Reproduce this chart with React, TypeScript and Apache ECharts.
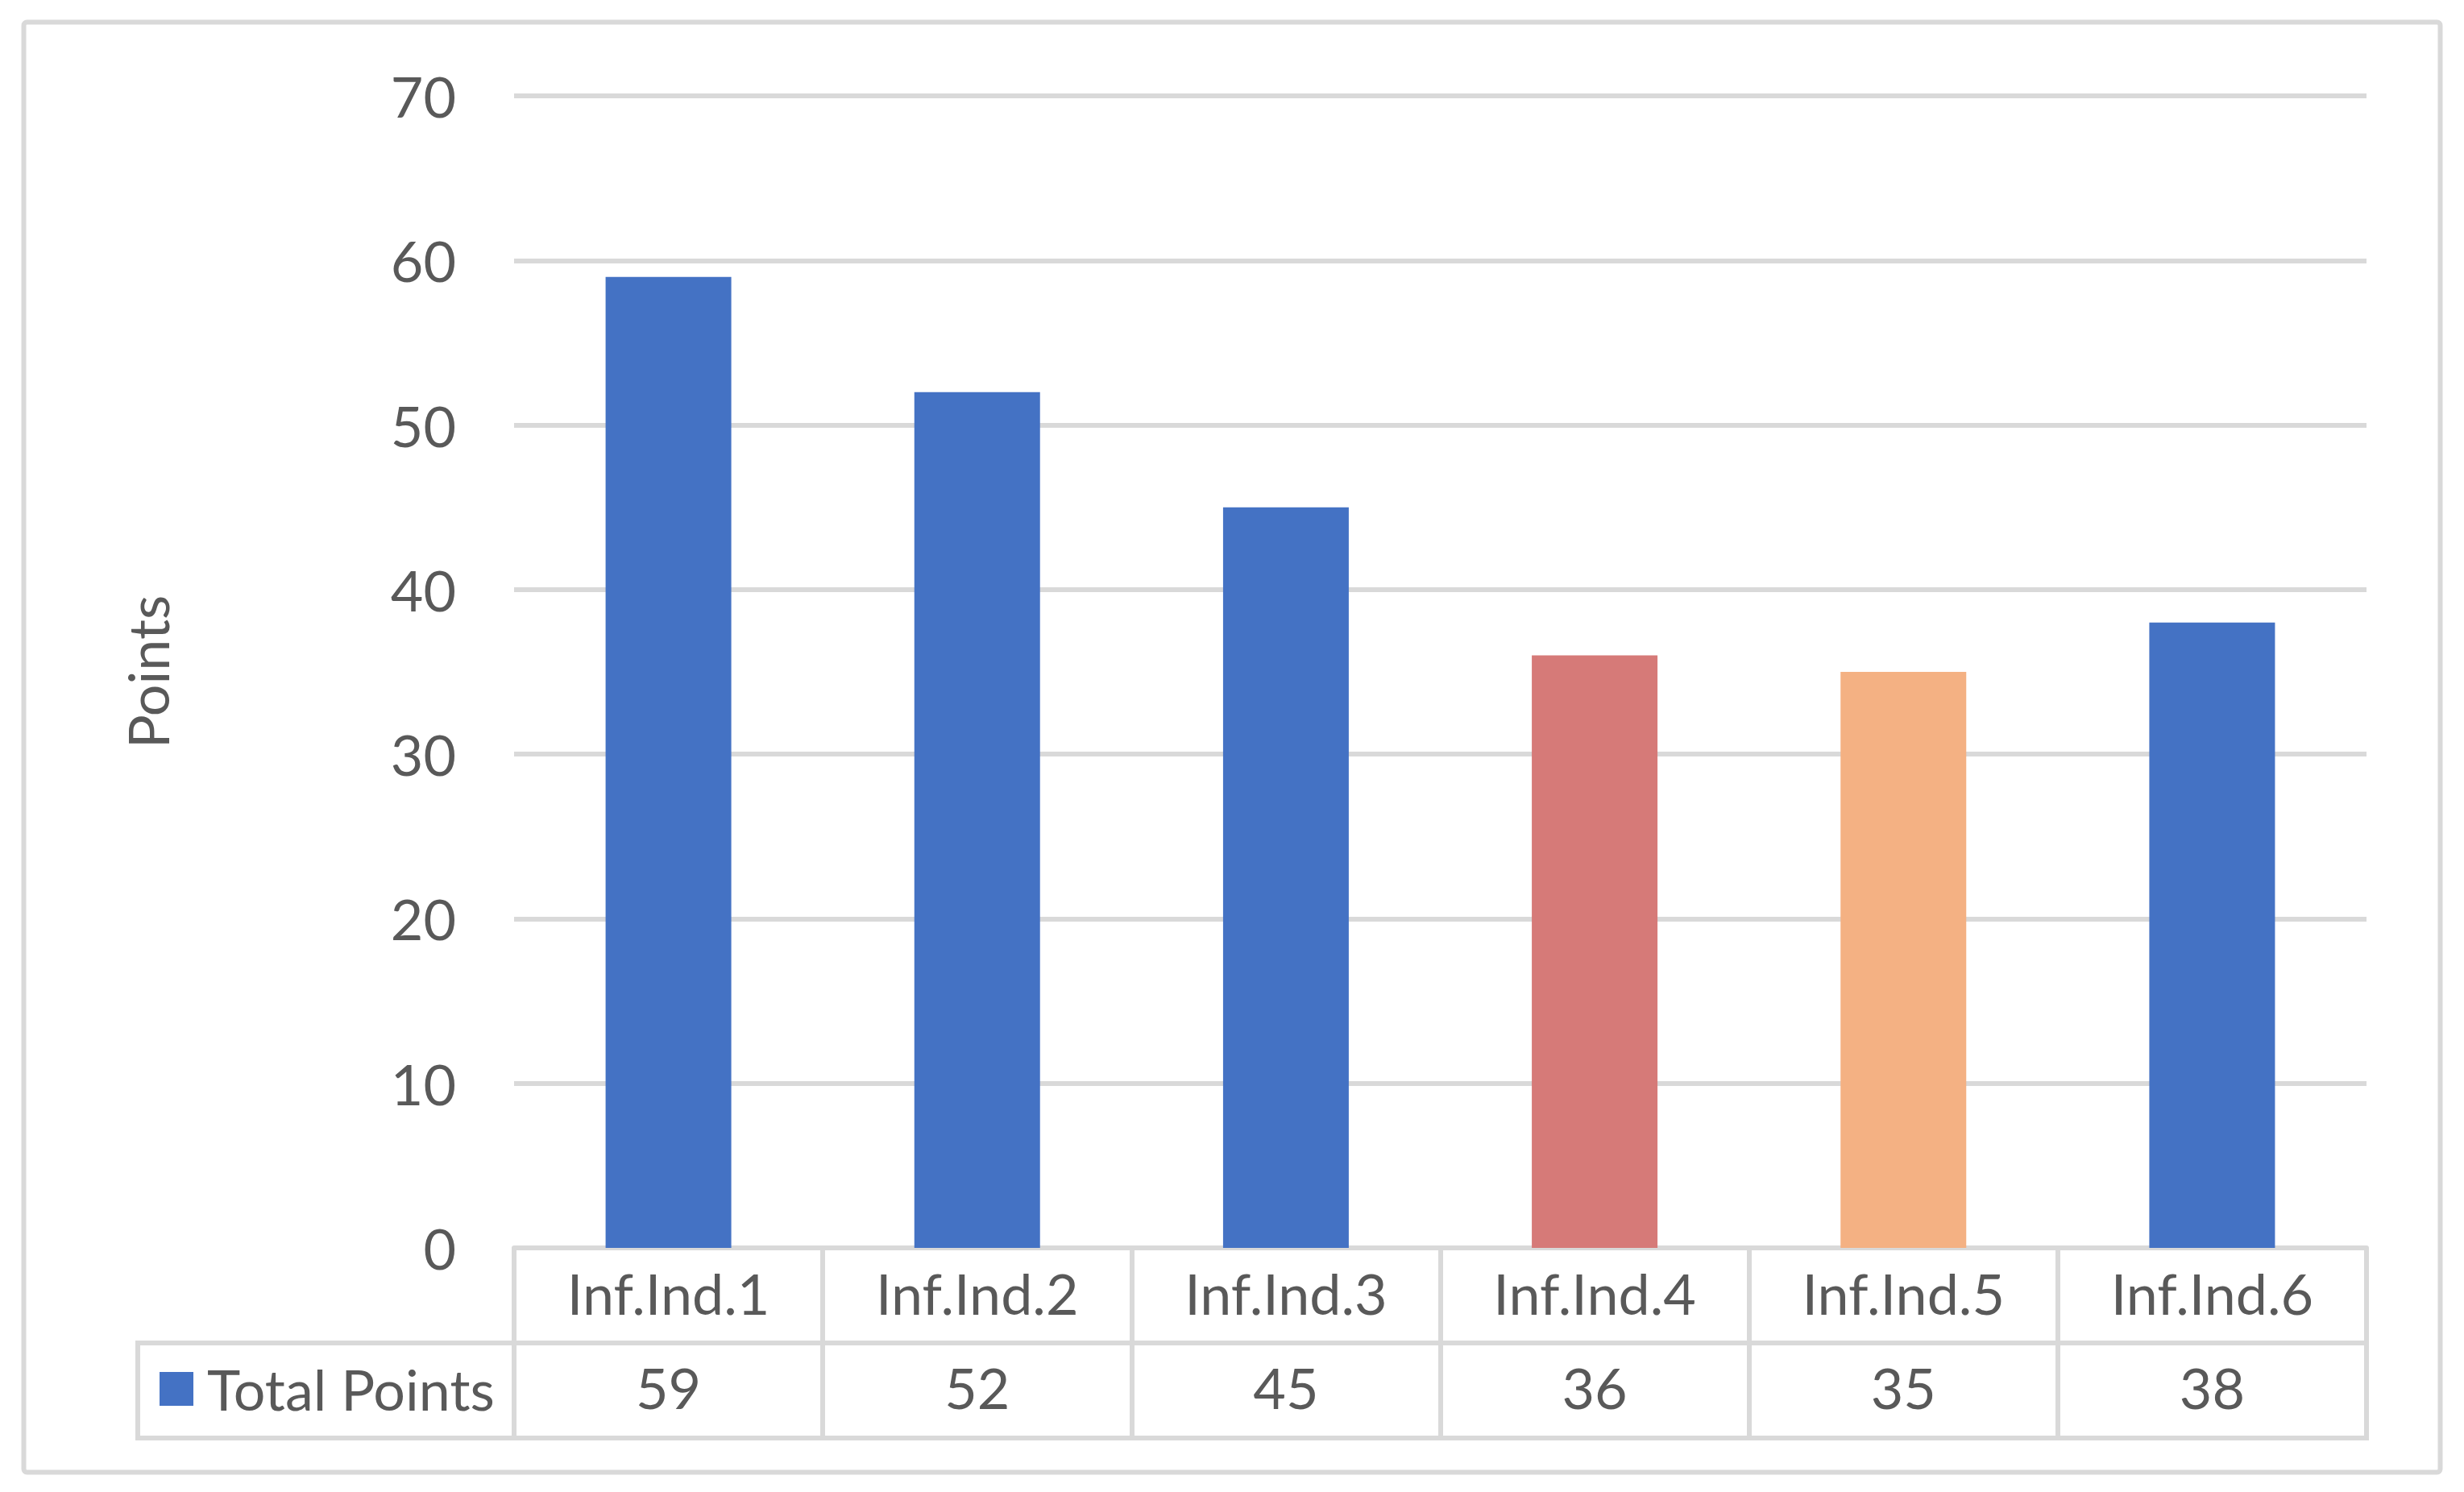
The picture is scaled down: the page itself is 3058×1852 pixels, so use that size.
import React, { useEffect, useRef } from "react";
import * as echarts from "echarts";

const categories = ["Inf.Ind.1", "Inf.Ind.2", "Inf.Ind.3", "Inf.Ind.4", "Inf.Ind.5", "Inf.Ind.6"];
const values = [59, 52, 45, 36, 35, 38];
const barColors = ["#4472C4", "#4472C4", "#4472C4", "#D67A78", "#F4B183", "#4472C4"];
const seriesName = "Total Points";
const axisTitle = "Points";

const W = 3058;
const H = 1852;
const GRID_LEFT = 638;
const GRID_RIGHT_X = 2937;
const GRID_TOP = 119;
const AXIS_Y = 1549;
const ROW1_BOTTOM = 1667;
const ROW2_BOTTOM = 1785;
const LEGEND_LEFT = 171;
const LINE = "#d9d9d9";
const TEXT = "#595959";
const FONT = "Lato, 'Open Sans', sans-serif";
const FS = 70;

export default function App() {
  const ref = useRef<HTMLDivElement>(null);
  useEffect(() => {
    if (!ref.current) return;
    const chart = echarts.init(ref.current, null, { renderer: "svg" });
    chart.setOption({
      animation: false,
      backgroundColor: "#ffffff",
      textStyle: { fontFamily: FONT, color: TEXT },
      grid: {
        left: GRID_LEFT,
        right: W - GRID_RIGHT_X,
        top: GRID_TOP,
        bottom: H - AXIS_Y,
        containLabel: false,
      },
      legend: {
        data: [seriesName],
        left: 198,
        top: 1689,
        padding: 0,
        itemWidth: 42,
        itemHeight: 42,
        icon: "rect",
        itemGap: 0,
        textStyle: {
          fontSize: FS,
          color: TEXT,
          fontFamily: FONT,
          lineHeight: 42,
          padding: [0, 0, 0, 12],
        },
        selectedMode: false,
      },
      xAxis: [
        {
          type: "category",
          data: categories,
          position: "bottom",
          axisLine: { show: true, lineStyle: { color: LINE, width: 6 } },
          axisTick: { show: true, length: ROW2_BOTTOM - AXIS_Y, lineStyle: { color: LINE, width: 6 } },
          axisLabel: {
            fontSize: FS,
            color: TEXT,
            fontFamily: FONT,
            margin: (AXIS_Y + ROW1_BOTTOM) / 2 - AXIS_Y - 3,
            verticalAlign: "middle",
          },
          splitLine: { show: false },
        },
        {
          type: "category",
          data: categories,
          position: "bottom",
          axisLine: { show: false },
          axisTick: { show: false },
          axisLabel: {
            fontSize: FS,
            color: TEXT,
            fontFamily: FONT,
            margin: (ROW1_BOTTOM + ROW2_BOTTOM) / 2 - AXIS_Y - 4,
            verticalAlign: "middle",
            formatter: (_v: string, i: number) => String(values[i]),
          },
        },
      ],
      yAxis: {
        type: "value",
        min: 0,
        max: 70,
        interval: 10,
        name: axisTitle,
        nameLocation: "middle",
        nameGap: 420,
        nameRotate: 90,
        nameTextStyle: { fontSize: FS, color: TEXT, fontFamily: FONT },
        axisLine: { show: false },
        axisTick: { show: false },
        axisLabel: {
          fontSize: FS,
          color: TEXT,
          fontFamily: FONT,
          margin: 72,
          verticalAlign: "middle",
          padding: [0, 0, 8, 0],
        },
        splitLine: { show: true, lineStyle: { color: LINE, width: 6 } },
      },
      series: [
        {
          name: seriesName,
          type: "bar",
          xAxisIndex: 0,
          barWidth: 156,
          itemStyle: { color: "#4472C4" },
          data: values.map((v, i) => ({ value: v, itemStyle: { color: barColors[i] } })),
        },
      ],
      graphic: [
        {
          type: "rect",
          shape: { x: 29.5, y: 27.5, width: 2999, height: 1800, r: 4 },
          style: { fill: "none", stroke: LINE, lineWidth: 6 },
          silent: true,
        },
        {
          type: "line",
          shape: { x1: LEGEND_LEFT, y1: ROW1_BOTTOM, x2: GRID_RIGHT_X + 3, y2: ROW1_BOTTOM },
          style: { stroke: LINE, lineWidth: 6 },
          silent: true,
        },
        {
          type: "line",
          shape: { x1: LEGEND_LEFT - 3, y1: ROW2_BOTTOM, x2: GRID_RIGHT_X + 3, y2: ROW2_BOTTOM },
          style: { stroke: LINE, lineWidth: 6 },
          silent: true,
        },
        {
          type: "line",
          shape: { x1: LEGEND_LEFT, y1: ROW1_BOTTOM - 3, x2: LEGEND_LEFT, y2: ROW2_BOTTOM + 3 },
          style: { stroke: LINE, lineWidth: 6 },
          silent: true,
        },
      ],
    });
    return () => chart.dispose();
  }, []);
  return (
    <div
      ref={ref}
      style={{ position: "absolute", left: 0, top: 0, width: W, height: H, background: "#fff" }}
    />
  );
}
